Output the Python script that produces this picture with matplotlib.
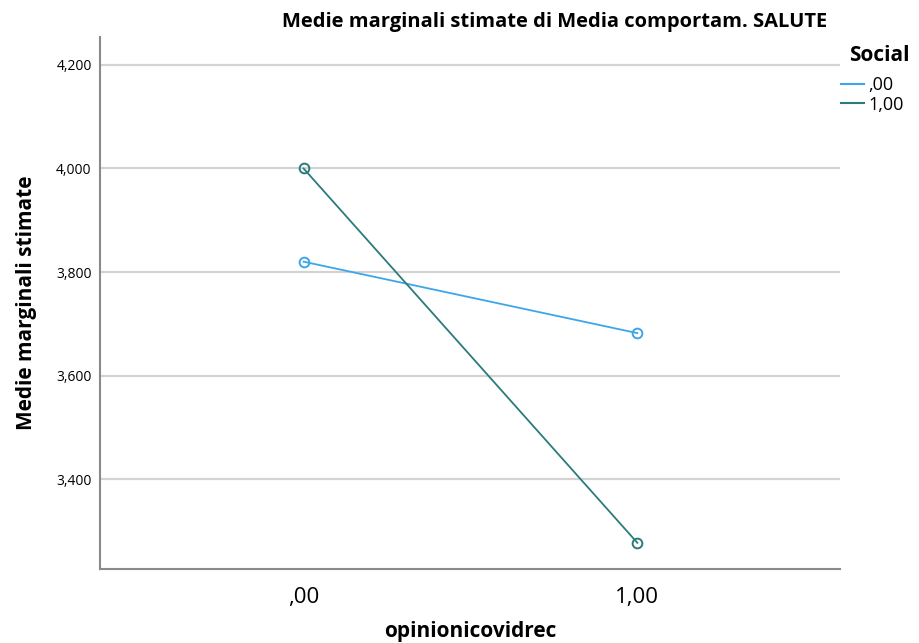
import matplotlib.pyplot as plt
from matplotlib.lines import Line2D

plt.rcParams['font.family'] = ['Open Sans', 'DejaVu Sans']

categories = [',00', '1,00']
social_labels = [',00', '1,00']
social_00 = [3.820, 3.682]
social_100 = [4.000, 3.277]
colors = ['#3ea6e8', '#2b7b7b']

y_ticks = [3.4, 3.6, 3.8, 4.0, 4.2]
y_tick_labels = ['3,400', '3,600', '3,800', '4,000', '4,200']

fig = plt.figure(figsize=(9.19, 6.43), dpi=100)
ax = fig.add_axes([0.1088, 0.1145, 0.8052, 0.8280])

x = list(range(len(categories)))
for vals, col in zip([social_00, social_100], colors):
    ax.plot(x, vals, color=col, lw=1.3, marker='o', markersize=7,
            markerfacecolor='none', markeredgecolor=col, markeredgewidth=1.4, zorder=3)

ax.set_xlim(-0.61, 1.607)
ax.set_ylim(3.2257, 4.254)
ax.set_yticks(y_ticks)
ax.set_yticklabels(y_tick_labels, fontsize=10)
ax.set_xticks(x)
ax.set_xticklabels(categories, fontsize=16)
ax.tick_params(axis='both', length=0)
ax.tick_params(axis='y', pad=6)
ax.tick_params(axis='x', pad=13)
ax.grid(axis='y', color='#d3d3d3', lw=1.6)
ax.set_axisbelow(True)

for s in ['top', 'right']:
    ax.spines[s].set_visible(False)
for s in ['left', 'bottom']:
    ax.spines[s].set_color('#8a8a8a')
    ax.spines[s].set_linewidth(1.5)

ax.set_ylabel('Medie marginali stimate', fontsize=15, fontweight='bold', labelpad=14)
ax.set_xlabel('opinionicovidrec', fontsize=15, fontweight='bold', labelpad=9)
fig.text(0.604, 0.966, 'Medie marginali stimate di Media comportam. SALUTE',
         ha='center', va='center', fontsize=14.5, fontweight='bold')

fig.text(0.924, 0.913, 'Social', ha='left', va='center', fontsize=15, fontweight='bold')
handles = [Line2D([0], [0], color=c, lw=1.5) for c in colors]
fig.legend(handles, social_labels, loc='upper left',
           bbox_to_anchor=(0.915, 0.882), frameon=False, fontsize=13,
           handlelength=1.3, handletextpad=0.2, labelspacing=0.1,
           borderpad=0, borderaxespad=0)

fig.savefig('out.png', dpi=100)
